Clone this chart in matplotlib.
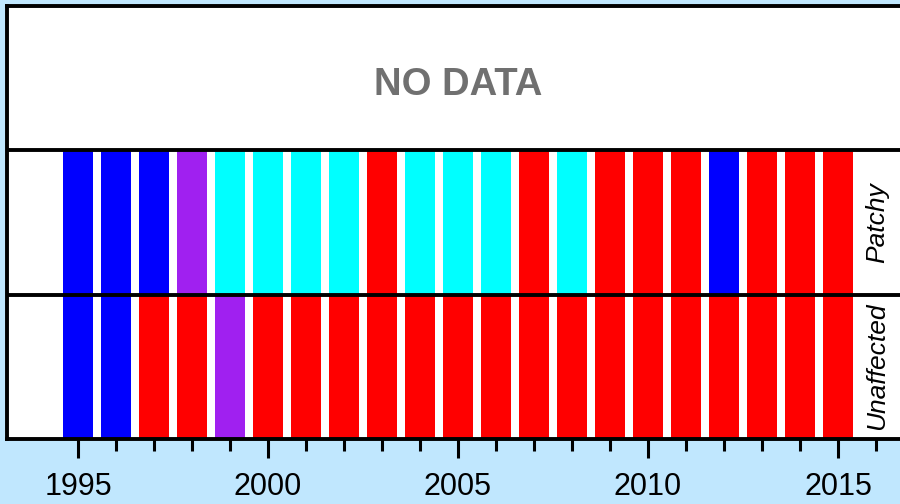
import matplotlib
matplotlib.use("Agg")
import matplotlib.pyplot as plt
from matplotlib.ticker import FixedLocator

plt.rcParams['font.family'] = ['Liberation Sans', 'DejaVu Sans']

years = list(range(1995, 2016))
patchy_status = ['blue', 'blue', 'blue', 'purple', 'cyan', 'cyan', 'cyan', 'cyan',
                 'red', 'cyan', 'cyan', 'cyan', 'red', 'cyan', 'red', 'red', 'red',
                 'blue', 'red', 'red', 'red']
unaffected_status = ['blue', 'blue', 'red', 'red', 'purple'] + ['red'] * 16
band_labels = ['Unaffected', 'Patchy']
tick_years = [1995, 2000, 2005, 2010, 2015]
minor_years = list(range(1995, 2017))

colour_map = {'blue': '#0000FF', 'cyan': '#00FFFF', 'red': '#FF0000', 'purple': '#A020F0'}

fig = plt.figure(figsize=(9, 5.04), dpi=100, facecolor='#C0E7FE')
ax = fig.add_axes([7 / 900, (504 - 439) / 504, 902 / 900, (439 - 5.5) / 504])
ax.set_facecolor('white')

bar_w = 0.78
ax.bar(years, [1] * len(years), bottom=0, width=bar_w,
       color=[colour_map[c] for c in unaffected_status], linewidth=0)
ax.bar(years, [1] * len(years), bottom=1, width=bar_w,
       color=[colour_map[c] for c in patchy_status], linewidth=0)

ax.set_xlim(1993.13, 2016.87)
ax.set_ylim(0, 3)

for yv in (1, 2):
    ax.axhline(yv, color='black', linewidth=2.8, zorder=5)

ax.text(2005, 2.38, 'NO DATA', ha='center', va='baseline', fontsize=27.5,
        fontweight='bold', color='#707070')
for i, lab in enumerate(band_labels):
    ax.text(2016.03, i + 0.5, lab, rotation=90, ha='center', va='center',
            fontsize=19, fontstyle='italic', color='black')

ax.set_xticks(tick_years)
ax.set_xticklabels([str(y) for y in tick_years], fontsize=22)
ax.xaxis.set_minor_locator(FixedLocator(minor_years))
ax.tick_params(axis='x', which='major', direction='out', length=14, width=2.2, pad=10)
ax.tick_params(axis='x', which='minor', direction='out', length=8.5, width=2.2)
ax.set_yticks([])

for s in ['left', 'top', 'bottom', 'right']:
    ax.spines[s].set_linewidth(2.8)
    ax.spines[s].set_color('black')

fig.savefig('out.png', dpi=100, facecolor=fig.get_facecolor())
